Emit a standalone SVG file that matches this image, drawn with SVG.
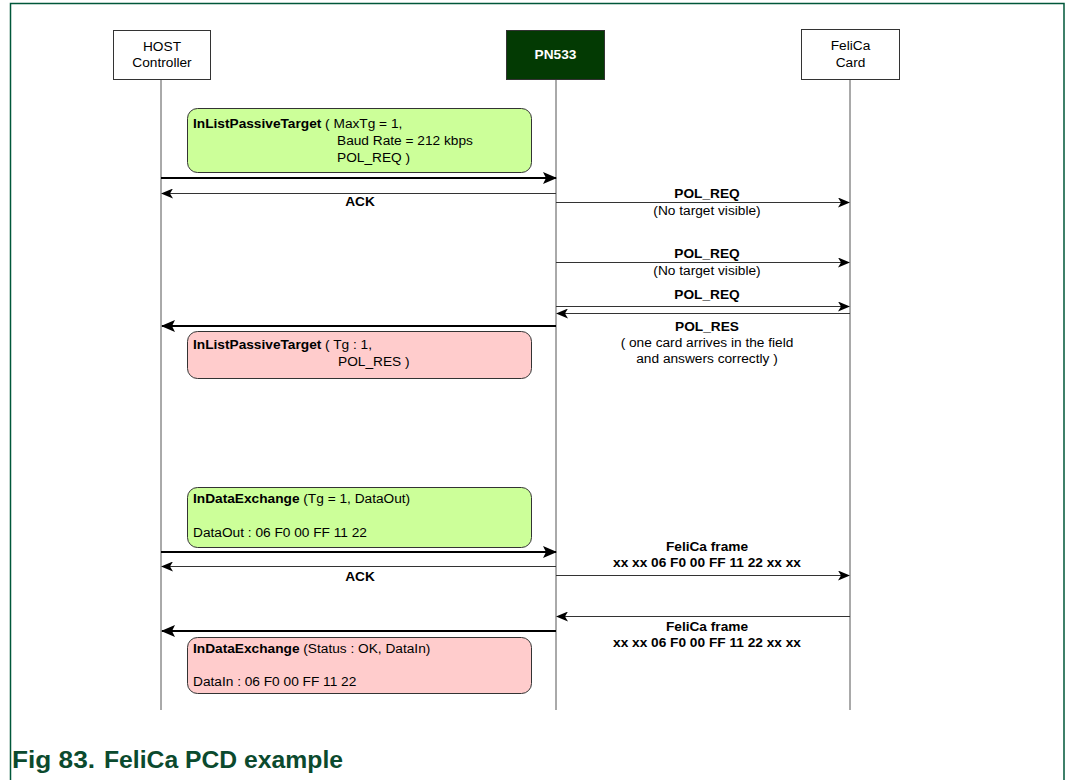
<svg xmlns="http://www.w3.org/2000/svg" width="1066" height="780" viewBox="0 0 1066 780">
<defs>
<marker id="ah" markerUnits="userSpaceOnUse" markerWidth="12" markerHeight="10" viewBox="0 0 12 10" refX="11" refY="5" orient="auto">
<path d="M0,0 L12,5 L0,10 L3,5 Z" fill="#000"/>
</marker>
<marker id="ahb" markerUnits="userSpaceOnUse" markerWidth="14" markerHeight="12" viewBox="0 0 14 12" refX="13" refY="6" orient="auto">
<path d="M0,0 L14,6 L0,12 L3,6 Z" fill="#000"/>
</marker>
<style>
text{font-family:"Liberation Sans",Arial,sans-serif;font-size:13.7px;fill:#000}
.b{font-weight:bold}
.c{text-anchor:middle}
.box{fill:#fff;stroke:#333;stroke-width:1}
.life{stroke:#555;stroke-width:1;fill:none}
.thin{stroke:#333;stroke-width:1;fill:none;marker-end:url(#ah)}
.thick{stroke:#000;stroke-width:2;fill:none;marker-end:url(#ahb)}
.req{fill:#ccff99;stroke:#333;stroke-width:1}
.res{fill:#ffcccc;stroke:#333;stroke-width:1}
</style>
</defs>
<rect width="1066" height="780" fill="#fff"/>
<path d="M10.5,780 V3.5 H1064 V780" fill="none" stroke="#00573a" stroke-width="1.5"/>

<g id="lifelines">
<line class="life" x1="161" y1="79" x2="161" y2="710"/>
<line class="life" x1="556" y1="79" x2="556" y2="710"/>
<line class="life" x1="850" y1="79" x2="850" y2="710"/>
</g>

<g id="host">
<rect class="box" x="113.5" y="30.5" width="97" height="49"/>
<text class="c" x="162" y="51">HOST</text>
<text class="c" x="162" y="67">Controller</text>
</g>
<g id="pn533">
<rect x="506.5" y="30.5" width="98" height="49" fill="#033a03" stroke="#333"/>
<text class="c b" x="555.5" y="59" style="fill:#fff">PN533</text>
</g>
<g id="felica">
<rect class="box" x="801.5" y="29.5" width="98" height="50"/>
<text class="c" x="850.5" y="50">FeliCa</text>
<text class="c" x="850.5" y="67">Card</text>
</g>

<g id="note1">
<rect class="req" x="187.5" y="108.5" width="344" height="64" rx="10"/>
<text x="193" y="128"><tspan class="b">InListPassiveTarget</tspan> ( MaxTg = 1,</text>
<text x="337" y="145">Baud Rate = 212 kbps</text>
<text x="337" y="162">POL_REQ )</text>
</g>
<g id="note2">
<rect class="res" x="187.5" y="331.5" width="344" height="47" rx="10"/>
<text x="193" y="349"><tspan class="b">InListPassiveTarget</tspan> ( Tg : 1,</text>
<text x="338" y="366">POL_RES )</text>
</g>
<g id="note3">
<rect class="req" x="187.5" y="487.5" width="344" height="60" rx="10"/>
<text x="193" y="503"><tspan class="b">InDataExchange</tspan> (Tg = 1, DataOut)</text>
<text x="193" y="537">DataOut : 06 F0 00 FF 11 22</text>
</g>
<g id="note4">
<rect class="res" x="187.5" y="637.5" width="344" height="56" rx="10"/>
<text x="193" y="653"><tspan class="b">InDataExchange</tspan> (Status : OK, DataIn)</text>
<text x="193" y="686">DataIn : 06 F0 00 FF 11 22</text>
</g>

<g id="connectors">
<line class="thick" x1="161" y1="178" x2="556" y2="178"/>
<line class="thin" x1="556" y1="193.5" x2="162" y2="193.5"/>
<line class="thin" x1="556" y1="202.5" x2="849" y2="202.5"/>
<line class="thin" x1="556" y1="262.5" x2="849" y2="262.5"/>
<line class="thin" x1="556" y1="306.5" x2="849" y2="306.5"/>
<line class="thin" x1="850" y1="313.5" x2="557" y2="313.5"/>
<line class="thick" x1="556" y1="326" x2="162" y2="326"/>
<line class="thick" x1="161" y1="552" x2="556" y2="552"/>
<line class="thin" x1="556" y1="566.5" x2="162" y2="566.5"/>
<line class="thin" x1="556" y1="575.5" x2="849" y2="575.5"/>
<line class="thin" x1="850" y1="616.5" x2="557" y2="616.5"/>
<line class="thick" x1="556" y1="631" x2="162" y2="631"/>
</g>

<g id="labels">
<text class="c b" x="360" y="206">ACK</text>
<text class="c b" x="707" y="198">POL_REQ</text>
<text class="c" x="707" y="215">(No target visible)</text>
<text class="c b" x="707" y="258">POL_REQ</text>
<text class="c" x="707" y="275">(No target visible)</text>
<text class="c b" x="707" y="299">POL_REQ</text>
<text class="c b" x="707" y="331">POL_RES</text>
<text class="c" x="707" y="347">( one card arrives in the field</text>
<text class="c" x="707" y="363">and answers correctly )</text>
<text class="c b" x="360" y="581">ACK</text>
<text class="c b" x="707" y="551">FeliCa frame</text>
<text class="c b" x="707" y="567">xx xx 06 F0 00 FF 11 22 xx xx</text>
<text class="c b" x="707" y="631">FeliCa frame</text>
<text class="c b" x="707" y="647">xx xx 06 F0 00 FF 11 22 xx xx</text>
</g>

<text x="12" y="768" style="font-size:24px;font-weight:bold;fill:#0b4a2e"><tspan textLength="83" lengthAdjust="spacingAndGlyphs">Fig 83.</tspan><tspan x="104" textLength="239" lengthAdjust="spacingAndGlyphs">FeliCa PCD example</tspan></text>
</svg>
